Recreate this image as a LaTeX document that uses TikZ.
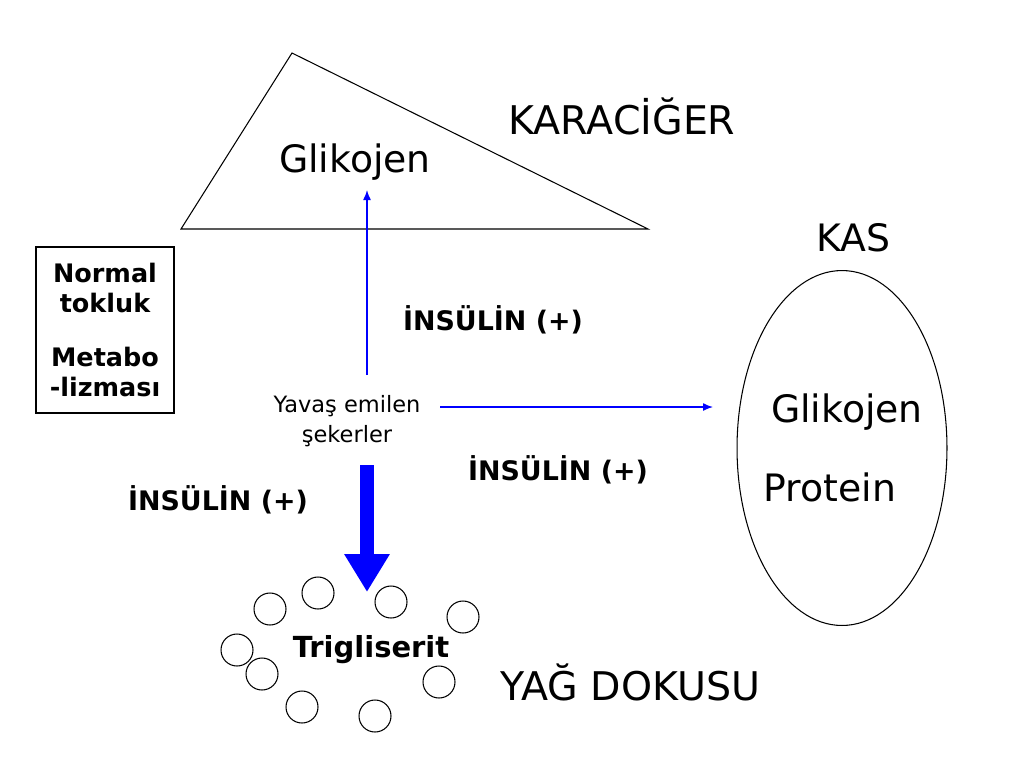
\documentclass[tikz,border=0pt]{standalone}
\usepackage{fontspec}
\setmainfont{DejaVu Sans}
\usetikzlibrary{arrows.meta,shapes.geometric}
\begin{document}
\begin{tikzpicture}[
  x=0.02cm, y=-0.02cm,
  organ/.style={font=\fontsize{21.5}{25}\selectfont, inner sep=0pt},
  bigorgan/.style={font=\fontsize{22.5}{26}\selectfont, inner sep=0pt},
  hormone/.style={font=\bfseries\fontsize{15.3}{18}\selectfont, inner sep=0pt},
  fatcell/.style={circle, draw, line width=0.6pt, minimum size=0.64cm, inner sep=0pt},
  flow/.style={draw=blue, line width=0.8pt, -{Latex[length=2mm,width=1.6mm]}},
  bigflow/.style={draw=blue, line width=0.28cm, -{Triangle[length=7.6mm,width=8.6mm]}}
]
  \useasboundingbox (0,0) rectangle (1024,768);
  % liver
  \draw[line width=0.6pt] (292,53) -- (181,229) -- (648,229) -- cycle;
  \node[bigorgan] (karaciger) at (622,116) {KARACİĞER};
  \node[organ] (glyL) at (355,162) {Glikojen};
  % muscle
  \node[organ] (kas) at (853,238) {KAS};
  \node[ellipse, draw, line width=0.6pt, minimum width=4.2cm, minimum height=7.1cm, inner sep=0pt] (muscle) at (842,448) {};
  \node[organ] (glyM) at (847,412) {Glikojen};
  \node[organ] (prot) at (830,487) {Protein};
  % state box
  \node[draw, line width=1.2pt, minimum width=2.76cm, minimum height=3.32cm, align=center,
        font=\bfseries\fontsize{14.5}{17}\selectfont] (state) at (105,330)
        {Normal\\tokluk\\[14pt]Metabo\\-lizması};
  % sugars
  \node[align=center, inner sep=0pt, font=\fontsize{12.8}{17}\selectfont] (sugar) at (347,421) {Yavaş emilen\\şekerler};
  \node[hormone] (insUp) at (493,320) {İNSÜLİN (+)};
  \node[hormone] (insRight) at (558,470) {İNSÜLİN (+)};
  \node[hormone] (insDown) at (218,500) {İNSÜLİN (+)};
  % adipose
  \node[font=\bfseries\fontsize{16.5}{19}\selectfont, inner sep=0pt] (trig) at (371,650) {Trigliserit};
  \node[bigorgan] (yag) at (630,682) {YAĞ DOKUSU};
  \foreach \cx/\cy [count=\i] in {270/609, 318/593, 391/602, 463/617, 237/650, 262/674, 439/682, 302/707, 375/716}
    \node[fatcell] (cell\i) at (\cx,\cy) {};
  % arrows
  \coordinate (upA) at (367,375);
  \coordinate (upB) at (367,190);
  \coordinate (rA) at (440,407);
  \coordinate (rB) at (713,407);
  \coordinate (dA) at (367,465);
  \coordinate (dB) at (367,592);
  \draw[flow] (upA) -- (upB);
  \draw[flow] (rA) -- (rB);
  \draw[bigflow] (dA) -- (dB);
\end{tikzpicture}
\end{document}
